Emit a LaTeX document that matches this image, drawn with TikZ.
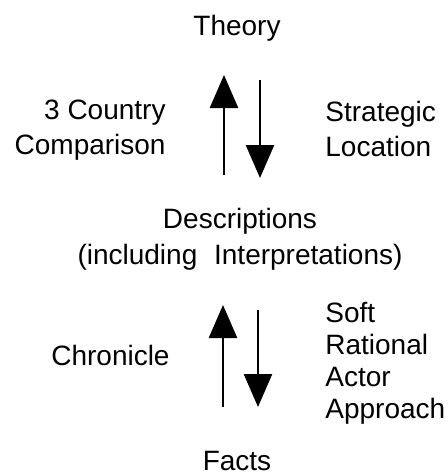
\documentclass[tikz,border=0pt]{standalone}
\usepackage{fontspec}
\setmainfont{Liberation Sans}
\usepackage{tikz}
\usetikzlibrary{arrows.meta,positioning}
\tikzset{
  lvl/.style={font=\fontsize{14}{17.5}\selectfont, inner sep=0pt, align=center},
  side/.style={lvl, font=\fontsize{14}{17.5}\selectfont},
  flow/.style={line width=1.3pt, -{Triangle[width=14pt,length=16.5pt]}}
}

\begin{document}
\begin{tikzpicture}[x=0.5pt, y=-0.5pt]
\useasboundingbox (0,0) rectangle (447,473);

% levels
\node[lvl, anchor=base] (theory) at (237,35) {Theory};
\node[lvl, anchor=north, font=\fontsize{14}{18}\selectfont] (desc) at (240,208)
  {Descriptions\\(including\hspace{0.6em}Interpretations)};
\node[lvl, anchor=base] (facts) at (237,470) {Facts};

% upper pair
\coordinate (u1a) at (224,175);
\coordinate (u1b) at (224,75);
\coordinate (d1a) at (260,80);
\coordinate (d1b) at (260,178);
\draw[flow] (u1a) -- (u1b);
\draw[flow] (d1a) -- (d1b);
\node[side, align=right, anchor=north east] (cmp) at (166,100) {3 Country\\Comparison};
\node[side, align=left, anchor=north west] (loc) at (325,101) {Strategic\\Location};

% lower pair
\coordinate (u2a) at (223,407);
\coordinate (u2b) at (223,305);
\coordinate (d2a) at (258,310);
\coordinate (d2b) at (258,407);
\draw[flow] (u2a) -- (u2b);
\draw[flow] (d2a) -- (d2b);
\node[side, anchor=base east] (chron) at (170,365) {Chronicle};
\node[side, align=left, anchor=north west, font=\fontsize{14}{16}\selectfont] (rat) at (325,302)
  {Soft\\Rational\\Actor\\Approach};

\end{tikzpicture}
\end{document}
